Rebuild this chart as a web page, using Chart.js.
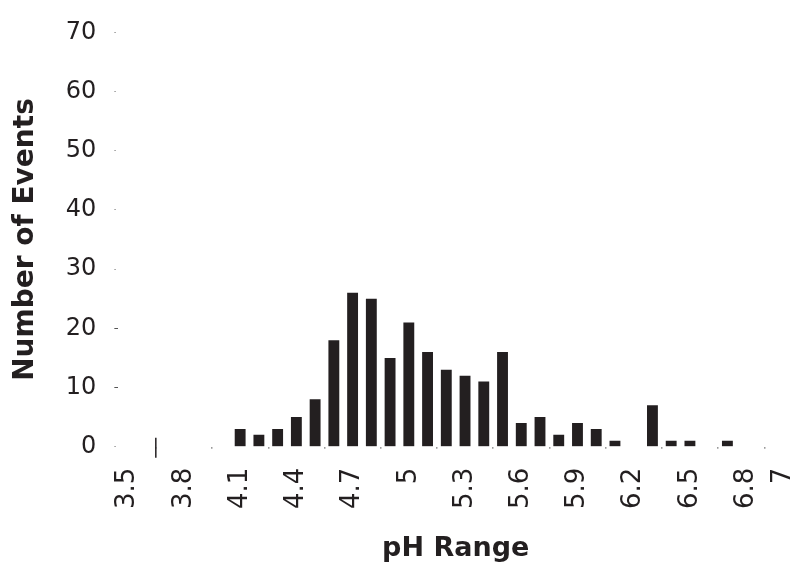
<!DOCTYPE html>
<html>
<head>
<meta charset="utf-8">
<script src="https://cdn.jsdelivr.net/npm/chart.js@4/dist/chart.umd.min.js"></script>
<style>
  html, body { margin: 0; padding: 0; background: #ffffff; }
  #wrap { width: 809px; height: 562px; }
</style>
</head>
<body>
<div id="wrap"><canvas id="c" width="809" height="562"></canvas></div>
<script>
const phCategories = ['3.5','3.6','3.7','3.8','3.9','4','4.1','4.2','4.3','4.4','4.5','4.6','4.7','4.8','4.9','5','5.1','5.2','5.3','5.4','5.5','5.6','5.7','5.8','5.9','6','6.1','6.2','6.3','6.4','6.5','6.6','6.7','6.8','6.9','7'];
const eventCounts  = [0,0,0,0,0,0,3,2,3,5,8,18,26,25,15,21,16,13,12,11,16,4,5,2,4,3,1,0,7,1,1,0,1,0,0,0];
const shownTickLabels = ['3.5','3.8','4.1','4.4','4.7','5','5.3','5.6','5.9','6.2','6.5','6.8','7'];
const yTickValues = [0,10,20,30,40,50,60,70];

const ink = '#231f20';

const markPlugin = {
  id: 'markPlugin',
  afterDatasetsDraw(chart) {
    const xs = chart.scales.x, ys = chart.scales.y, ctx = chart.ctx;
    const bx = (xs.getPixelForValue(1) + xs.getPixelForValue(2)) / 2;
    const by = ys.getPixelForValue(0);
    ctx.save();
    ctx.strokeStyle = ink;
    ctx.lineWidth = 1.5;
    ctx.beginPath();
    ctx.moveTo(bx, by - 9);
    ctx.lineTo(bx, by + 11);
    ctx.stroke();
    ctx.restore();
  }
};

new Chart(document.getElementById('c'), {
  type: 'bar',
  data: {
    labels: phCategories,
    datasets: [{
      data: eventCounts,
      backgroundColor: ink,
      borderWidth: 0,
      barPercentage: 0.58,
      categoryPercentage: 1.0
    }]
  },
  options: {
    responsive: false,
    animation: false,
    layout: { padding: { top: 15, left: 10, right: 16, bottom: 0 } },
    plugins: { legend: { display: false }, tooltip: { enabled: false } },
    scales: {
      x: {
        offset: true,
        border: { display: false },
        afterFit: (axis) => { axis.paddingLeft = 0; axis.paddingRight = 0; },
        grid: {
          offset: true,
          drawOnChartArea: false,
          drawTicks: true,
          tickLength: 2,
          color: '#9a9a9a',
          lineWidth: 1.5
        },
        ticks: {
          autoSkip: false,
          minRotation: 90,
          maxRotation: 90,
          padding: 19,
          color: ink,
          font: { family: 'DejaVu Sans', size: 26 },
          callback: function(value, index) {
            const lab = phCategories[index];
            return shownTickLabels.includes(lab) ? lab : null;
          }
        },
        title: {
          display: true,
          text: 'pH Range',
          color: ink,
          font: { family: 'DejaVu Sans', size: 27, weight: 'bold', lineHeight: 1.0 },
          padding: { top: 7, bottom: 0 }
        }
      },
      y: {
        min: 0,
        max: 70,
        border: { display: false },
        grid: {
          drawOnChartArea: false,
          drawTicks: true,
          tickLength: 4,
          color: (c) => (c.tick && (c.tick.value === 10 || c.tick.value === 20)) ? '#555' : '#999',
          tickBorderDash: (c) => (c.tick && (c.tick.value === 10 || c.tick.value === 20)) ? [] : [1.5, 10]
        },
        afterBuildTicks: (axis) => { axis.ticks = yTickValues.map(v => ({ value: v })); },
        ticks: {
          padding: 18,
          color: ink,
          font: { family: 'DejaVu Sans', size: 24 }
        },
        title: {
          display: true,
          text: 'Number of Events',
          color: ink,
          font: { family: 'DejaVu Sans', size: 28, weight: 'bold', lineHeight: 1.1 },
          padding: { top: 0, bottom: 7 }
        }
      }
    }
  },
  plugins: [markPlugin]
});
</script>
</body>
</html>
